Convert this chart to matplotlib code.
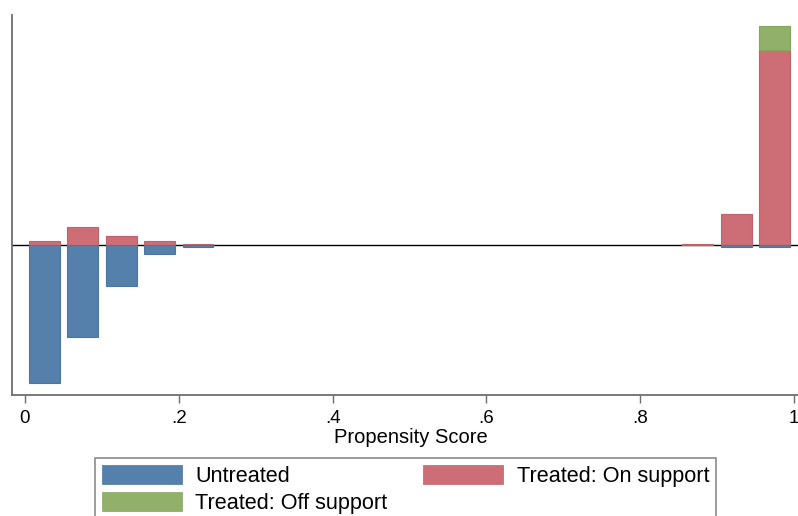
import matplotlib
matplotlib.use("Agg")
import matplotlib.pyplot as plt
import numpy as np
from matplotlib.patches import Patch

# Propensity-score histogram: 20 bins of width 0.05 on [0, 1]
bin_centers = np.arange(0.025, 1.0, 0.05)
untreated = np.array([92, 61, 27, 6, 1, 0, 0, 0, 0, 0,
                      0, 0, 0, 0, 0, 0, 0, 0, 1, 1])
treated_on = np.array([3, 12, 6, 3, 1, 0, 0, 0, 0, 0,
                       0, 0, 0, 0, 0, 0, 0, 1, 21, 130])
treated_off = np.array([0, 0, 0, 0, 0, 0, 0, 0, 0, 0,
                        0, 0, 0, 0, 0, 0, 0, 0, 0, 16])
tick_values = [0, 0.2, 0.4, 0.6, 0.8, 1.0]
tick_labels = ["0", ".2", ".4", ".6", ".8", "1"]

BLUE, BLUE_E = "#5580AB", "#4B76A2"
RED, RED_E = "#CD6E76", "#C2616A"
GREEN, GREEN_E = "#91B16B", "#84A55E"
FONT = "Liberation Sans"

W, H = 798, 516
fig = plt.figure(figsize=(W / 100, H / 100), dpi=100)
left_px, right_px, top_px, bottom_px = 12, 798, 15, 395
ax = fig.add_axes([left_px / W, 1 - bottom_px / H,
                   (right_px - left_px) / W, (bottom_px - top_px) / H])

bar_w = 0.04
m = treated_on > 0
ax.bar(bin_centers[m], treated_on[m], width=bar_w, color=RED,
       edgecolor=RED_E, linewidth=0.8, zorder=3)
m = treated_off > 0
ax.bar(bin_centers[m], treated_off[m], bottom=treated_on[m], width=bar_w,
       color=GREEN, edgecolor=GREEN_E, linewidth=0.8, zorder=3)
m = untreated > 0
ax.bar(bin_centers[m], -untreated[m], width=bar_w, color=BLUE,
       edgecolor=BLUE_E, linewidth=0.8, zorder=3)

ax.axhline(0, color="black", linewidth=1.0, zorder=2)

# x: 0 -> 25 px, 1 -> 794 px
ppu = 769.0
ax.set_xlim((left_px - 25) / ppu, (right_px - 25) / ppu)
# y: zero line at 245 px, 1.5 px per count
ppc = 1.5
ax.set_ylim(-(bottom_px - 245) / ppc, (245 - top_px) / ppc)

for s in ("top", "right"):
    ax.spines[s].set_visible(False)
for s in ("left", "bottom"):
    ax.spines[s].set_color("#6E6E6E")
    ax.spines[s].set_linewidth(1.3)

ax.set_yticks([])
ax.set_xticks(tick_values)
ax.set_xticklabels(tick_labels, fontfamily=FONT, fontsize=13.5)
ax.tick_params(axis="x", direction="out", length=6, width=1.0,
               color="#6E6E6E", pad=4.5, labelcolor="black")

ax.set_xlabel("Propensity Score", fontfamily=FONT, fontsize=14.5)
ax.xaxis.set_label_coords(410.5 / W, 1 - 442.7 / H, transform=fig.transFigure)
ax.xaxis.label.set_va("baseline")

handles = [Patch(facecolor=BLUE, edgecolor=BLUE_E, linewidth=0.5),
           Patch(facecolor=GREEN, edgecolor=GREEN_E, linewidth=0.5),
           Patch(facecolor=RED, edgecolor=RED_E, linewidth=0.5)]
labels = ["Untreated", "Treated: Off support", "Treated: On support"]
leg_fs = 15.6
leg_px = leg_fs * 100 / 72
leg = fig.legend(handles, labels, ncol=2, loc="upper left",
                 bbox_to_anchor=(95 / W, 1 - 458.3 / H),
                 borderaxespad=0, frameon=True, fancybox=False,
                 prop={"family": FONT, "size": leg_fs},
                 handlelength=80 / leg_px, handleheight=20 / leg_px,
                 handletextpad=13.4 / leg_px, borderpad=0.32,
                 labelspacing=0.25, columnspacing=36 / leg_px)
leg.get_frame().set_edgecolor("#6E6E6E")
leg.get_frame().set_linewidth(1.2)

fig.savefig("out.png", dpi=100)
